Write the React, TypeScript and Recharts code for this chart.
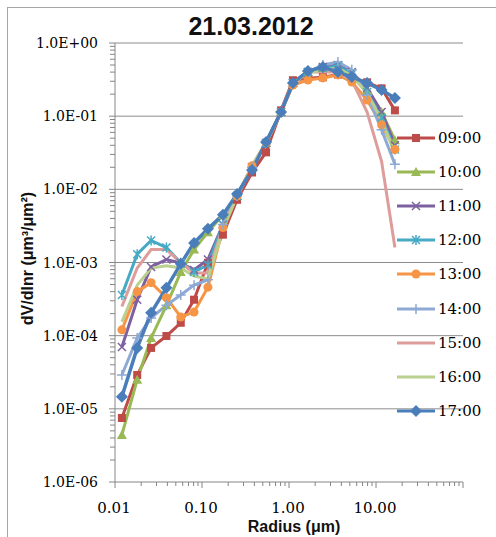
import { LineChart, Line, XAxis, YAxis, ReferenceLine, Legend } from "recharts";

// radius bins (um)
const radius = [
  0.012, 0.018, 0.026, 0.039, 0.057, 0.081, 0.117, 0.174, 0.253, 0.376,
  0.545, 0.81, 1.11, 1.65, 2.45, 3.65, 5.27, 7.9, 11.6, 16.5,
];

// dV/dlnr per hour
const h0900 = [7.5e-6, 2.9e-5, 6.8e-5, 9.9e-5, 1.5e-4, 3.1e-4, 9.9e-4, 2.4e-3, 7.2e-3, 1.7e-2, 3.2e-2, 0.12, 0.31, 0.33, 0.34, 0.37, 0.33, 0.29, 0.24, 0.12];
const h1000 = [4.4e-6, 2.5e-5, 9.3e-5, 2.6e-4, 7.4e-4, 1.5e-3, 2.6e-3, 4.5e-3, 8.1e-3, 2.0e-2, 4.3e-2, 0.114, 0.284, 0.4, 0.455, 0.455, 0.366, 0.228, 0.114, 0.047];
const h1100 = [7.0e-5, 3.1e-4, 8.7e-4, 1.1e-3, 9.9e-4, 7.9e-4, 1.1e-3, 3.3e-3, 8.1e-3, 2.0e-2, 4.3e-2, 0.114, 0.284, 0.4, 0.47, 0.5, 0.4, 0.243, 0.114, 0.04];
const h1200 = [3.6e-4, 1.3e-3, 2.0e-3, 1.6e-3, 9.9e-4, 7.4e-4, 9.3e-4, 3.3e-3, 8.1e-3, 2.0e-2, 4.3e-2, 0.114, 0.284, 0.4, 0.455, 0.485, 0.377, 0.214, 0.095, 0.035];
const h1300 = [1.2e-4, 4.0e-4, 5.3e-4, 3.3e-4, 1.8e-4, 2.1e-4, 4.6e-4, 3.0e-3, 8.1e-3, 2.1e-2, 4.4e-2, 0.114, 0.267, 0.312, 0.333, 0.366, 0.293, 0.166, 0.076, 0.035];
const h1400 = [2.9e-5, 9.3e-5, 1.75e-4, 2.6e-4, 3.6e-4, 4.9e-4, 5.8e-4, 3.3e-3, 8.1e-3, 2.0e-2, 4.3e-2, 0.114, 0.284, 0.4, 0.5, 0.55, 0.43, 0.195, 0.065, 0.022];
const h1500 = [2.5e-4, 8.4e-4, 1.5e-3, 1.5e-3, 1.0e-3, 7.2e-4, 7.2e-4, 3.0e-3, 8.1e-3, 2.0e-2, 4.3e-2, 0.114, 0.284, 0.4, 0.4, 0.4, 0.31, 0.114, 0.024, 1.6e-3];
const h1600 = [1.55e-4, 4.9e-4, 8.4e-4, 9.0e-4, 8.4e-4, 6.5e-4, 6.0e-4, 2.8e-3, 8.1e-3, 2.1e-2, 4.3e-2, 0.114, 0.284, 0.39, 0.43, 0.455, 0.354, 0.207, 0.089, 0.031];
const h1700 = [1.46e-5, 6.8e-5, 2.05e-4, 4.5e-4, 9.6e-4, 1.85e-3, 2.9e-3, 4.5e-3, 8.65e-3, 1.84e-2, 4.44e-2, 0.114, 0.284, 0.414, 0.47, 0.4, 0.343, 0.284, 0.228, 0.177];

const xMajor = [0.01, 0.1, 1, 10, 100];
const yMajor = [1e-6, 1e-5, 1e-4, 1e-3, 1e-2, 1e-1, 1];
const minorSteps = [2, 3, 4, 5, 6, 7, 8, 9];

const xTicks = [
  ...xMajor,
  ...xMajor.slice(0, -1).flatMap((d) => minorSteps.map((m) => d * m)),
].sort((a, b) => a - b);
const yTicks = [
  ...yMajor,
  ...yMajor.slice(0, -1).flatMap((d) => minorSteps.map((m) => d * m)),
].sort((a, b) => a - b);

const series = [
  { key: "h0900", name: "09:00", values: h0900, color: "#BE4B48", marker: "square" },
  { key: "h1000", name: "10:00", values: h1000, color: "#98B954", marker: "triangle" },
  { key: "h1100", name: "11:00", values: h1100, color: "#7D60A0", marker: "x" },
  { key: "h1200", name: "12:00", values: h1200, color: "#46AAC5", marker: "star" },
  { key: "h1300", name: "13:00", values: h1300, color: "#F69545", marker: "circle" },
  { key: "h1400", name: "14:00", values: h1400, color: "#8DA9D4", marker: "plus" },
  { key: "h1500", name: "15:00", values: h1500, color: "#DE9D9B", marker: "none" },
  { key: "h1600", name: "16:00", values: h1600, color: "#B9D08F", marker: "none" },
  { key: "h1700", name: "17:00", values: h1700, color: "#4A7EBB", marker: "diamond" },
];

const chartData = radius.map((r, i) => {
  const row: Record<string, number> = { radius: r };
  series.forEach((s) => {
    row[s.key] = s.values[i];
  });
  return row;
});

const AXIS = "#868686";
const SERIF = "'DejaVu Serif', serif";
const SANS = "'Liberation Sans', Arial, sans-serif";

function Marker({ shape, color, cx, cy }: any) {
  switch (shape) {
    case "square":
      return <rect x={cx - 4} y={cy - 4} width={8} height={8} fill={color} />;
    case "triangle":
      return <path d={`M${cx},${cy - 5} L${cx + 5},${cy + 4} L${cx - 5},${cy + 4} Z`} fill={color} />;
    case "x":
      return (
        <path d={`M${cx - 4},${cy - 4} L${cx + 4},${cy + 4} M${cx - 4},${cy + 4} L${cx + 4},${cy - 4}`} stroke={color} strokeWidth={1.5} fill="none" />
      );
    case "star":
      return (
        <path
          d={`M${cx - 4},${cy - 4} L${cx + 4},${cy + 4} M${cx - 4},${cy + 4} L${cx + 4},${cy - 4} M${cx},${cy - 5} L${cx},${cy + 5}`}
          stroke={color}
          strokeWidth={1.5}
          fill="none"
        />
      );
    case "circle":
      return <circle cx={cx} cy={cy} r={4.5} fill={color} />;
    case "plus":
      return (
        <path d={`M${cx - 5},${cy} L${cx + 5},${cy} M${cx},${cy - 5} L${cx},${cy + 5}`} stroke={color} strokeWidth={1.5} fill="none" />
      );
    case "diamond":
      return <path d={`M${cx},${cy - 6} L${cx + 6},${cy} L${cx},${cy + 6} L${cx - 6},${cy} Z`} fill={color} />;
    default:
      return null;
  }
}

function XTick({ x, y, payload }: any) {
  const v = payload.value;
  const major = xMajor.includes(v);
  return (
    <g>
      <line x1={x} y1={y} x2={x} y2={y + (major ? 6 : 4)} stroke={AXIS} />
      {major && v < 100 && (
        <text x={x - 1} y={y + 31} textAnchor="middle" fontFamily={SERIF} fontSize={15} fill="#000">
          {v.toFixed(2)}
        </text>
      )}
    </g>
  );
}

function formatExp(v: number) {
  const e = Math.round(Math.log10(v));
  return "1.0E" + (e < 0 ? "-" : "+") + String(Math.abs(e)).padStart(2, "0");
}

function YTick({ x, y, payload }: any) {
  const v = payload.value;
  const major = yMajor.includes(v);
  return (
    <g>
      <line x1={x - (major ? 6 : 5)} y1={y} x2={x} y2={y} stroke={AXIS} />
      {major && (
        <text x={x - 17} y={y + 5} textAnchor="end" fontFamily={SERIF} fontSize={14} fill="#000">
          {formatExp(v)}
        </text>
      )}
    </g>
  );
}

function LegendBox() {
  return (
    <div style={{ display: "flex", flexDirection: "column" }}>
      {series.map((s) => (
        <div key={s.key} style={{ height: 34.1, display: "flex", alignItems: "center" }}>
          <svg width={43} height={34} style={{ display: "block" }}>
            <line x1={2} y1={17} x2={40} y2={17} stroke={s.color} strokeWidth={3} />
            <Marker shape={s.marker} color={s.color} cx={21} cy={17} />
          </svg>
          <span style={{ fontFamily: SERIF, fontSize: 15, color: "#000", lineHeight: "34px" }}>{s.name}</span>
        </div>
      ))}
    </div>
  );
}

export default function App() {
  return (
    <div style={{ position: "absolute", left: 0, top: 0, width: 496, height: 537, background: "#fff", overflow: "hidden" }}>
      <div style={{ position: "absolute", left: 7, top: 7, width: 1, height: 530, background: "#a6a6a6" }} />
      <div style={{ position: "absolute", left: 7, top: 7, width: 489, height: 1, background: "#a6a6a6" }} />
      <svg width={496} height={40} style={{ position: "absolute", left: 0, top: 0 }}>
        <text x={251} y={35} textAnchor="middle" fontFamily={SANS} fontWeight="bold" fontSize={25} fill="#111">
          21.03.2012
        </text>
      </svg>
      <div style={{ position: "absolute", left: 0, top: 0 }}>
        <LineChart width={496} height={537} data={chartData} margin={{ top: 43, right: 33, left: 0, bottom: 0 }}>
          <XAxis
            dataKey="radius"
            type="number"
            scale="log"
            domain={[0.01, 100]}
            allowDataOverflow
            ticks={xTicks}
            interval={0}
            height={55}
            tickSize={0}
            tickMargin={0}
            tickLine={false}
            axisLine={{ stroke: AXIS }}
            tick={<XTick />}
            label={{
              content: ({ viewBox }: any) => (
                <text
                  x={viewBox.x + viewBox.width / 2 + 5}
                  y={viewBox.y + 50}
                  textAnchor="middle"
                  fontFamily={SANS}
                  fontWeight="bold"
                  fontSize={16}
                  fill="#111"
                >
                  Radius (μm)
                </text>
              ),
            }}
          />
          <YAxis
            type="number"
            scale="log"
            domain={[1e-6, 1]}
            allowDataOverflow
            ticks={yTicks}
            interval={0}
            width={115}
            tickSize={0}
            tickMargin={0}
            tickLine={false}
            axisLine={{ stroke: AXIS }}
            tick={<YTick />}
            label={{
              content: ({ viewBox }: any) => {
                const cx = 27;
                const cy = viewBox.y + viewBox.height / 2 - 4;
                return (
                  <text
                    x={cx}
                    y={cy}
                    transform={`rotate(-90, ${cx}, ${cy})`}
                    textAnchor="middle"
                    dominantBaseline="central"
                    fontFamily={SANS}
                    fontWeight="bold"
                    fontSize={16}
                    fill="#111"
                  >
                    dV/dlnr (μm³/μm²)
                  </text>
                );
              },
            }}
          />
          {yMajor.slice(1).map((v) => (
            <ReferenceLine key={v} y={v} stroke="#8c8c8c" strokeWidth={1} />
          ))}
          <Legend
            layout="horizontal"
            align="center"
            verticalAlign="middle"
            wrapperStyle={{ left: 395, top: 121, width: 101 }}
            content={() => <LegendBox />}
          />
          {series.map((s) => (
            <Line
              key={s.key}
              dataKey={s.key}
              name={s.name}
              stroke={s.color}
              strokeWidth={s.key === "h1700" ? 3.5 : 3}
              isAnimationActive={false}
              activeDot={false}
              dot={
                s.marker === "none"
                  ? false
                  : (p: any) => <Marker key={`${s.key}-${p.index}`} shape={s.marker} color={s.color} cx={p.cx} cy={p.cy} />
              }
            />
          ))}
        </LineChart>
      </div>
    </div>
  );
}
